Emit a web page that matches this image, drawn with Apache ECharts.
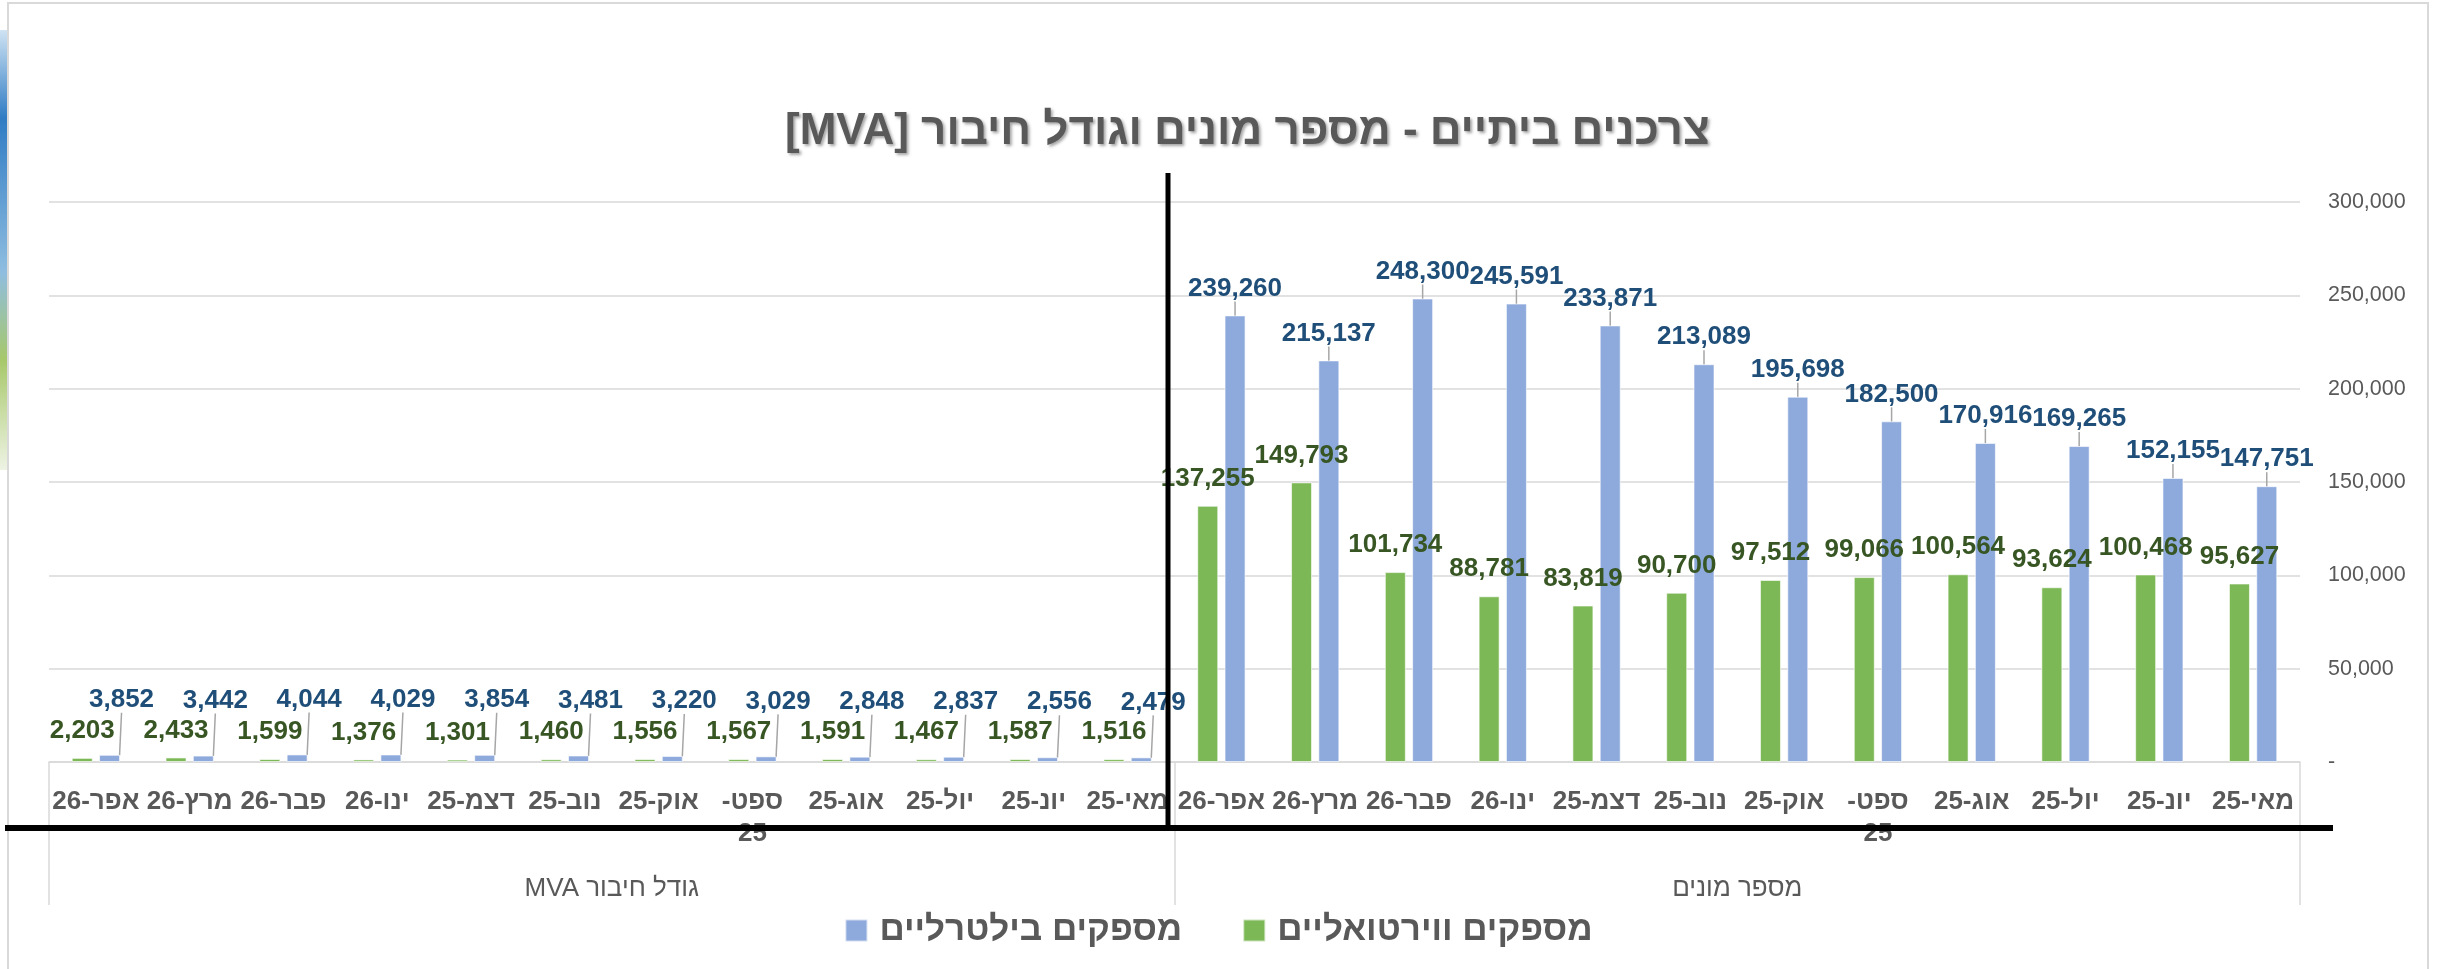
<!DOCTYPE html>
<html>
<head>
<meta charset="utf-8">
<script src="https://cdn.jsdelivr.net/npm/echarts/dist/echarts.min.js"></script>
<style>
  html, body { margin: 0; padding: 0; background: #fff; }
  #chart { width: 2437px; height: 969px; }
</style>
</head>
<body>
<div id="chart"></div>
<script>
// months in logical order (axis is drawn reversed, right to left)
const months = ['מאי-25', 'יונ-25', 'יול-25', 'אוג-25', 'ספט-25', 'אוק-25', 'נוב-25', 'דצמ-25', 'ינו-26', 'פבר-26', 'מרץ-26', 'אפר-26'];
const groups = ['מספר מונים', 'גודל חיבור MVA'];
const seriesNames = ['מספקים ווירטואליים', 'מספקים בילטרליים'];

// מספר מונים
const virtualMeters = [95627, 100468, 93624, 100564, 99066, 97512, 90700, 83819, 88781, 101734, 149793, 137255];
const bilateralMeters = [147751, 152155, 169265, 170916, 182500, 195698, 213089, 233871, 245591, 248300, 215137, 239260];
// גודל חיבור MVA
const virtualMva = [1516, 1587, 1467, 1591, 1567, 1556, 1460, 1301, 1376, 1599, 2433, 2203];
const bilateralMva = [2479, 2556, 2837, 2848, 3029, 3220, 3481, 3854, 4029, 4044, 3442, 3852];

const yTicks = { min: 0, max: 300000, interval: 50000 };

const categories = months.concat(months);
const RLE = '\u202B', PDF = '\u202C';
const rtl = (s) => RLE + s + PDF;
const fmt = (v) => Number(v).toLocaleString('en-US');
const FONT = "'Liberation Sans', Arial, sans-serif";
const GREY = '#595959';

const chart = echarts.init(document.getElementById('chart'), null, { renderer: 'canvas' });

const option = {
  backgroundColor: '#fff',
  animation: false,
  textStyle: { fontFamily: FONT },
  title: {
    text: rtl('צרכנים ביתיים - מספר מונים וגודל חיבור [MVA]'),
    left: 780,
    top: 105,
    textStyle: {
      fontFamily: FONT,
      fontSize: 44,
      fontWeight: 'bold',
      color: GREY,
      textShadowColor: 'rgba(0,0,0,0.35)',
      textShadowBlur: 3,
      textShadowOffsetX: 2,
      textShadowOffsetY: 2,
    },
  },
  legend: {
    data: [seriesNames[1], seriesNames[0]],
    top: 908,
    left: 'center',
    icon: 'rect',
    itemWidth: 22,
    itemHeight: 22,
    itemGap: 60,
    textStyle: {
      fontFamily: FONT,
      fontSize: 35,
      fontWeight: 'bold',
      color: GREY,
      padding: [0, 0, 0, 7],
    },
  },
  grid: {
    left: 49,
    right: 137,
    top: 202,
    bottom: 207,
    containLabel: false,
  },
  xAxis: [
    {
      type: 'category',
      data: categories,
      inverse: true,
      position: 'bottom',
      axisLine: { show: true, lineStyle: { color: '#d9d9d9', width: 1.5 } },
      axisTick: { show: false },
      axisLabel: {
        interval: 0,
        margin: 24,
        fontFamily: FONT,
        fontSize: 26,
        fontWeight: 'bold',
        color: GREY,
        lineHeight: 32,
        formatter: (name) => {
          // Excel wrapped this one label onto two lines
          if (name.indexOf('ספט') === 0) {
            return rtl(name.split('-')[0] + '-') + '\n' + name.split('-')[1];
          }
          return rtl(name);
        },
      },
    },
    {
      type: 'category',
      data: groups,
      inverse: true,
      position: 'bottom',
      axisLine: { show: false },
      axisTick: {
        show: true,
        length: 143,
        lineStyle: { color: '#d9d9d9', width: 1.5 },
      },
      axisLabel: {
        margin: 114,
        fontFamily: FONT,
        fontSize: 26,
        color: GREY,
        formatter: (name) => rtl(name),
      },
    },
  ],
  yAxis: {
    type: 'value',
    position: 'right',
    min: yTicks.min,
    max: yTicks.max,
    interval: yTicks.interval,
    axisLine: { show: false },
    axisTick: { show: false },
    splitLine: { lineStyle: { color: '#d9d9d9', width: 1.5 } },
    axisLabel: {
      margin: 28,
      fontFamily: FONT,
      fontSize: 21.5,
      color: GREY,
      formatter: (v) => (v === 0 ? '-' : fmt(v)),
    },
  },
  series: [
    {
      name: seriesNames[0],
      type: 'bar',
      xAxisIndex: 0,
      data: virtualMeters.concat(virtualMva),
      barWidth: 21,
      barGap: '30%',
      itemStyle: { color: '#7db856', borderColor: 'rgba(255,255,255,0.6)', borderWidth: 1 },
      label: {
        show: true,
        position: 'top',
        distance: 14,
        fontFamily: FONT,
        fontSize: 26,
        fontWeight: 'bold',
        color: '#375623',
        formatter: (p) => fmt(p.value),
      },
    },
    {
      name: seriesNames[1],
      type: 'bar',
      xAxisIndex: 0,
      data: bilateralMeters.concat(bilateralMva),
      barWidth: 21,
      barGap: '30%',
      itemStyle: { color: '#8eaadc', borderColor: 'rgba(255,255,255,0.6)', borderWidth: 1 },
      label: {
        show: true,
        position: 'top',
        distance: 14,
        fontFamily: FONT,
        fontSize: 26,
        fontWeight: 'bold',
        color: '#1f4e79',
        formatter: (p) => fmt(p.value),
      },
      labelLine: { show: true, lineStyle: { color: '#a6a6a6', width: 1.5 } },
      // small MVA bars: lift the blue label above the green one, with a leader line
      labelLayout: (p) => (p.dataIndex >= months.length ? { dx: 12, dy: -28 } : {}),
    },
  ],
  graphic: [
    // chart frame
    {
      type: 'rect',
      silent: true,
      shape: { x: 8, y: 3, width: 2420, height: 975 },
      style: { fill: null, stroke: '#d9d9d9', lineWidth: 2 },
    },
    // piece of the slide picture on the left edge
    {
      type: 'rect',
      silent: true,
      shape: { x: 0, y: 30, width: 7, height: 440 },
      style: {
        fill: new echarts.graphic.LinearGradient(0, 0, 0, 1, [
          { offset: 0, color: '#cfe3f3' },
          { offset: 0.2, color: '#2f7cc4' },
          { offset: 0.55, color: '#8fbde0' },
          { offset: 0.75, color: '#a7c86a' },
          { offset: 1, color: '#eef3e4' },
        ]),
      },
    },
    // hand drawn black divider lines
    {
      type: 'line',
      silent: true,
      z: 100,
      shape: { x1: 1168, y1: 173, x2: 1168, y2: 830 },
      style: { stroke: '#000', lineWidth: 5 },
    },
    {
      type: 'line',
      silent: true,
      z: 100,
      shape: { x1: 5, y1: 828, x2: 2333, y2: 828 },
      style: { stroke: '#000', lineWidth: 6 },
    },
  ],
};

chart.setOption(option);
</script>
</body>
</html>
